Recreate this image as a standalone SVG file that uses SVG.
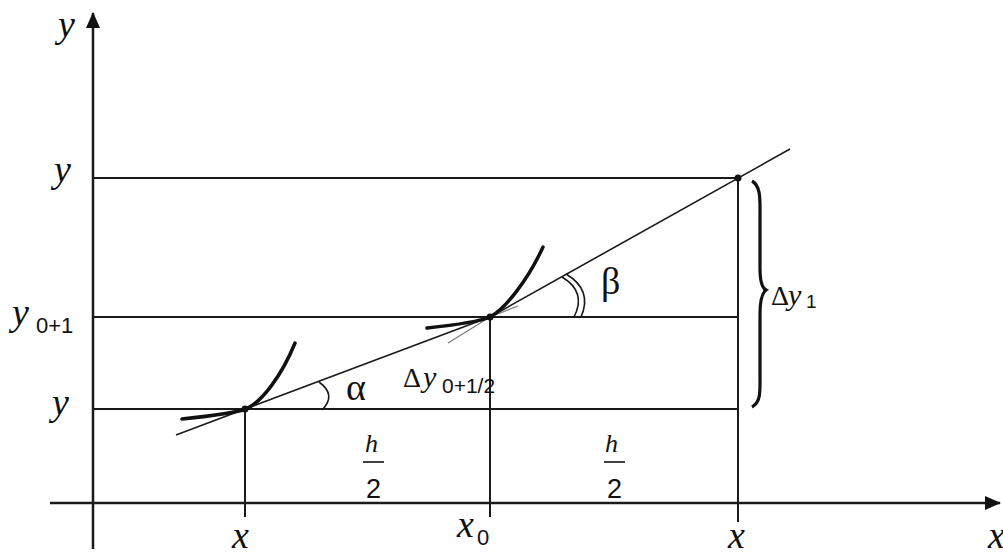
<svg xmlns="http://www.w3.org/2000/svg" width="1003" height="555" viewBox="0 0 1003 555">
<style>
.ln{stroke:#1a1a1a;stroke-width:2;fill:none}
.ax{stroke:#1a1a1a;stroke-width:2.5;fill:none}
.thin{stroke:#1a1a1a;stroke-width:1.6;fill:none}
.faint{stroke:#777;stroke-width:1.1;fill:none}
.crv{stroke:#111;stroke-width:3.5;fill:none;stroke-linecap:round}
text{fill:#111}
.it{font-family:'Liberation Serif','DejaVu Serif',serif;font-style:italic}
.rm{font-family:'Liberation Serif','DejaVu Serif',serif;font-style:normal}
.sb{font-family:'Liberation Sans',sans-serif}
</style>
<defs>
<marker id="arr" viewBox="0 0 16 14" refX="15" refY="7" markerWidth="16" markerHeight="14" markerUnits="userSpaceOnUse" orient="auto">
<path d="M0,0 L16,7 L0,14 Z" fill="#111"/>
</marker>
</defs>
<rect width="1003" height="555" fill="#fff"/>
<g id="axes">
<line class="ax" x1="93" y1="549" x2="93" y2="13" marker-end="url(#arr)"/>
<line class="ax" x1="50" y1="503" x2="1000" y2="503" marker-end="url(#arr)"/>
<text class="it" x="58" y="37" font-size="38" font-family="Liberation Serif, serif" font-style="italic">y</text>
<text class="it" x="988" y="548" font-size="38">x</text>
</g>
<g id="connectors">
<line class="ln" x1="93" y1="178" x2="738" y2="178"/>
<line class="ln" x1="93" y1="317" x2="738" y2="317"/>
<line class="ln" x1="93" y1="409" x2="738" y2="409"/>
<line class="ln" x1="245" y1="409" x2="245" y2="517"/>
<line class="ln" x1="490" y1="317" x2="490" y2="517"/>
<line class="ln" x1="738" y1="178" x2="738" y2="522"/>
<line class="thin" x1="176" y1="435" x2="490" y2="317"/>
<line class="faint" x1="490" y1="317" x2="518" y2="306"/>
<line class="thin" x1="490" y1="317" x2="790" y2="149"/>
<line class="faint" x1="448" y1="343" x2="490" y2="317"/>
<path class="crv" d="M182,419 C210,416 235,413 246,409 C262,402 282,375 295,343"/>
<path class="crv" d="M427,328 C455,325 478,322 490,317 C505,309 528,280 543,247"/>
<path class="thin" d="M319,382 Q337,395 322,410"/>
<path class="thin" d="M566,274 Q593,290 581,317"/>
<path class="thin" d="M562,277 Q587,292 574,317"/>
<path d="M752,181 C761,186 760,200 760,215 L760,268 C760,282 762,288 766,290 C762,293 760,300 760,314 L760,375 C760,392 761,402 752,407" stroke="#111" stroke-width="3.2" fill="none"/>
</g>
<g id="point-a">
<circle cx="245" cy="409" r="3.5" fill="#111"/>
<text class="it" x="52" y="415" font-size="38">y</text>
<text class="it" x="232" y="548" font-size="38">x</text>
<text class="rm" x="346" y="400" font-size="38">α</text>
</g>
<g id="point-b">
<circle cx="490" cy="317" r="3.5" fill="#111"/>
<text class="it" x="12" y="325" font-size="38">y</text>
<text class="sb" x="36" y="333" font-size="22">0+1</text>
<text class="it" x="457" y="537" font-size="38">x</text>
<text class="sb" x="477" y="545" font-size="22">0</text>
<text class="rm" x="403" y="387" font-size="28">Δ</text>
<text class="it" x="423" y="387" font-size="30">y</text>
<text class="sb" x="442" y="393" font-size="21">0+1/2</text>
<text class="rm" x="601" y="294" font-size="38">β</text>
</g>
<g id="point-c">
<circle cx="738" cy="178" r="3.5" fill="#111"/>
<text class="it" x="54" y="182" font-size="38">y</text>
<text class="it" x="728" y="548" font-size="38">x</text>
<text class="rm" x="771" y="305" font-size="28">Δ</text>
<text class="it" x="788" y="305" font-size="30">y</text>
<text class="sb" x="806" y="308" font-size="19">1</text>
</g>
<g id="half-step-1">
<text class="it" x="365" y="452" font-size="26">h</text>
<line x1="363" y1="462" x2="384" y2="462" stroke="#111" stroke-width="1.6"/>
<text class="sb" x="366" y="498" font-size="27">2</text>
</g>
<g id="half-step-2">
<text class="it" x="605" y="452" font-size="26">h</text>
<line x1="604" y1="462" x2="625" y2="462" stroke="#111" stroke-width="1.6"/>
<text class="sb" x="607" y="498" font-size="27">2</text>
</g>
</svg>
